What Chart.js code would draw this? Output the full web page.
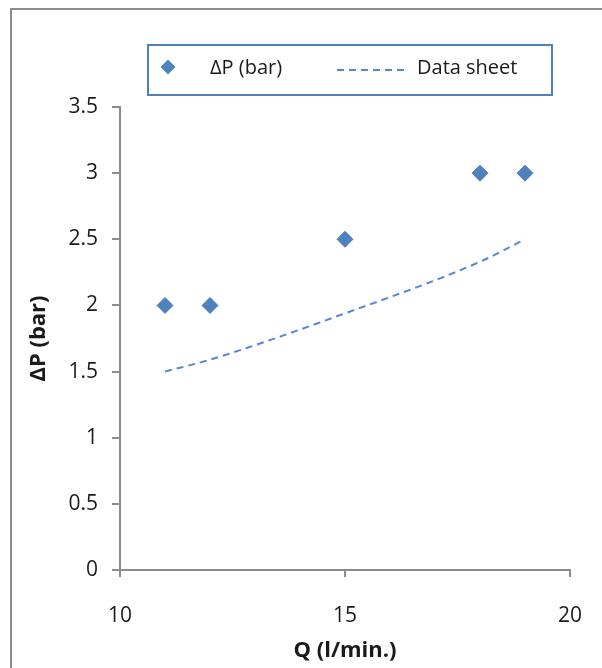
<!DOCTYPE html>
<html>
<head>
<meta charset="utf-8">
<script src="https://cdn.jsdelivr.net/npm/chart.js@4.4.0/dist/chart.umd.min.js"></script>
<style>
  body { margin: 0; background: #fff; }
  #wrap { position: relative; width: 602px; height: 668px; }
</style>
</head>
<body>
<div id="wrap">
  <canvas id="myChart" width="602" height="668"></canvas>
</div>
<script>
// measured points
const flowQ = [11, 12, 15, 18, 19];
const dpMeasured = [2, 2, 2.5, 3, 3];
// data sheet curve
const sheetQ = [11, 12, 15, 18, 19];
const dpSheet = [1.5, 1.59, 1.94, 2.33, 2.5];

const xTicks = [10, 15, 20];
const yTicks = [0, 0.5, 1, 1.5, 2, 2.5, 3, 3.5];

const seriesNames = ['ΔP (bar)', 'Data sheet'];
const xTitle = 'Q (l/min.)';
const yTitle = 'ΔP (bar)';

const axisGrey = '#8c8c8c';
const pointBlue = '#4f81bd';
const lineBlue = '#5588d0';

Chart.defaults.font.family = "'Open Sans', sans-serif";
Chart.defaults.color = '#1a1a1a';

// outer frame + boxed legend, drawn on the canvas
const framePlugin = {
    id: 'frameAndLegend',
    afterDraw(chart) {
        const ctx = chart.ctx;
        ctx.save();
        ctx.strokeStyle = axisGrey;
        ctx.lineWidth = 2;
        ctx.beginPath();
        ctx.moveTo(11, 668);
        ctx.lineTo(11, 9);
        ctx.lineTo(602, 9);
        ctx.stroke();

        // legend box
        ctx.strokeStyle = '#4f81bd';
        ctx.lineWidth = 2;
        ctx.strokeRect(148, 45, 404, 50);

        const ds = chart.data.datasets;
        // diamond
        const cx = 168, cy = 67, r = 7.5;
        ctx.fillStyle = ds[0].backgroundColor;
        ctx.beginPath();
        ctx.moveTo(cx - r, cy);
        ctx.lineTo(cx, cy - r);
        ctx.lineTo(cx + r, cy);
        ctx.lineTo(cx, cy + r);
        ctx.closePath();
        ctx.fill();

        // dashed sample
        ctx.strokeStyle = ds[1].borderColor;
        ctx.lineWidth = ds[1].borderWidth;
        ctx.setLineDash(ds[1].borderDash);
        ctx.beginPath();
        ctx.moveTo(337, 70);
        ctx.lineTo(404, 70);
        ctx.stroke();
        ctx.setLineDash([]);

        ctx.fillStyle = '#1a1a1a';
        ctx.font = "20px 'Open Sans', sans-serif";
        ctx.textBaseline = 'middle';
        ctx.textAlign = 'left';
        ctx.fillText(seriesNames[0], 210, 68);
        ctx.fillText(seriesNames[1], 417, 68);
        ctx.restore();
    }
};

const ctx = document.getElementById('myChart').getContext('2d');

const myChart = new Chart(ctx, {
    type: 'scatter',
    data: {
        datasets: [{
            label: seriesNames[0],
            data: flowQ.map((q, i) => ({ x: q, y: dpMeasured[i] })),
            backgroundColor: pointBlue,
            borderColor: pointBlue,
            pointStyle: 'rectRot',
            pointRadius: 8,
            pointHoverRadius: 8,
            showLine: false
        }, {
            label: seriesNames[1],
            data: sheetQ.map((q, i) => ({ x: q, y: dpSheet[i] })),
            borderColor: lineBlue,
            backgroundColor: lineBlue,
            borderWidth: 2,
            borderDash: [7, 5],
            pointRadius: 0,
            showLine: true,
            cubicInterpolationMode: 'monotone'
        }]
    },
    options: {
        responsive: false,
        animation: false,
        layout: {
            padding: { left: 0, top: 107, right: 32, bottom: 0 }
        },
        plugins: {
            legend: { display: false },
            tooltip: { enabled: false }
        },
        scales: {
            x: {
                type: 'linear',
                min: 10,
                max: 20,
                afterBuildTicks: (scale) => { scale.ticks = xTicks.map(v => ({ value: v })); },
                afterFit: (scale) => {
                    scale.height = 98;
                    scale.paddingLeft = 0;
                    scale.paddingRight = 0;
                },
                border: { display: true, color: axisGrey, width: 2 },
                grid: {
                    drawOnChartArea: false,
                    drawTicks: true,
                    tickLength: 7,
                    color: axisGrey,
                    lineWidth: 2
                },
                ticks: { font: { size: 21 }, padding: 26, callback: (v) => String(v) },
                title: {
                    display: true,
                    text: xTitle,
                    font: { size: 22, weight: 'bold' },
                    color: '#1a1a1a',
                    padding: { top: 4, bottom: 4 }
                }
            },
            y: {
                type: 'linear',
                min: 0,
                max: 3.5,
                afterBuildTicks: (scale) => { scale.ticks = yTicks.map(v => ({ value: v })); },
                afterFit: (scale) => {
                    scale.width = 120;
                    scale.paddingTop = 0;
                    scale.paddingBottom = 0;
                },
                border: { display: true, color: axisGrey, width: 2 },
                grid: {
                    drawOnChartArea: false,
                    drawTicks: true,
                    tickLength: 8,
                    color: axisGrey,
                    lineWidth: 2
                },
                ticks: { font: { size: 21 }, padding: 14, callback: (v) => String(v) },
                title: {
                    display: true,
                    text: yTitle,
                    font: { size: 22, weight: 'bold' },
                    color: '#1a1a1a',
                    padding: { top: 26, bottom: 0 }
                }
            }
        }
    },
    plugins: [framePlugin]
});
</script>
</body>
</html>
